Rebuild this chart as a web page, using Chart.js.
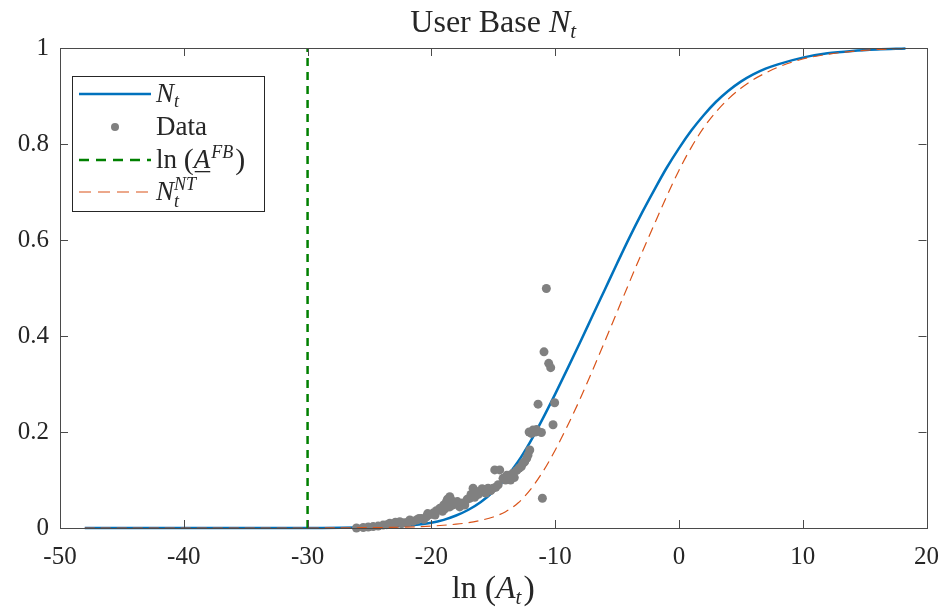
<!DOCTYPE html>
<html>
<head>
<meta charset="utf-8">
<script src="https://cdn.jsdelivr.net/npm/chart.js@4.4.1/dist/chart.umd.min.js"></script>
<style>
  html, body { margin: 0; padding: 0; background: #fff; }
  canvas { display: block; }
</style>
</head>
<body>
<canvas id="userBase" width="945" height="608"></canvas>
<script>
// ---- data ----
const xTicks = [-50, -40, -30, -20, -10, 0, 10, 20];
const yTicks = [0, 0.2, 0.4, 0.6, 0.8, 1];
const yTickLabels = ["0", "0.2", "0.4", "0.6", "0.8", "1"];

// N_t (model curve)
const ntX = [-48, -30, -26, -24, -22, -20, -19, -18, -17, -16, -15, -14, -13, -12, -11, -10, -9, -8, -7, -6, -5, -4, -3, -2, -1, 0, 1, 2, 3, 4, 5, 6, 7, 8, 10, 12, 14, 16, 18.3];
const ntY = [0, 0, 0.001, 0.002, 0.005, 0.011, 0.017, 0.026, 0.038, 0.054, 0.076, 0.104, 0.138, 0.180, 0.228, 0.279, 0.332, 0.386, 0.441, 0.496, 0.551, 0.605, 0.656, 0.704, 0.750, 0.791, 0.828, 0.860, 0.888, 0.911, 0.930, 0.945, 0.957, 0.966, 0.980, 0.989, 0.994, 0.997, 0.999];

// N_t^NT (no-tech counterfactual)
const nntX = [-48, -30, -26, -22, -20, -18, -17, -16, -15, -14, -13, -12, -11, -10, -9, -8, -7, -6, -5, -4, -3, -2, -1, 0, 1, 2, 3, 4, 5, 6, 7, 8, 10, 12, 14, 16, 18.3];
const nntY = [0, 0, 0.0005, 0.002, 0.004, 0.008, 0.011, 0.016, 0.023, 0.034, 0.052, 0.080, 0.117, 0.162, 0.213, 0.268, 0.327, 0.388, 0.450, 0.512, 0.573, 0.632, 0.690, 0.745, 0.793, 0.834, 0.867, 0.894, 0.916, 0.934, 0.948, 0.960, 0.977, 0.987, 0.993, 0.997, 0.999];

// observed data
const dataX = [-26.05, -25.5, -25.1, -24.7, -24.3, -23.9, -23.6, -23.36, -23.0, -22.9, -22.55, -22.4, -22.2, -21.9, -21.74, -21.5, -21.2, -21.0, -20.8, -20.6, -20.39, -20.3, -20.1, -19.86, -19.7, -19.6, -19.32, -19.1, -19.0, -18.9, -18.78, -18.7, -18.51, -18.38, -18.51, -18.3, -18.1, -17.9, -17.71, -17.5, -17.3, -17.1, -16.9, -16.8, -16.63, -16.5, -16.36, -16.2, -16.0, -15.9, -15.7, -15.6, -15.42, -15.2, -15.01, -14.88, -14.8, -14.6, -14.48, -14.21, -14.0, -13.9, -13.7, -13.6, -13.4, -13.3, -13.1, -12.9, -12.73, -12.6, -12.46, -12.3, -12.19, -12.1, -12.05, -11.92, -11.79, -11.6, -11.5, -11.38, -11.11, -11.03, -10.9, -10.71, -10.52, -10.36, -10.17, -10.04];
const dataY = [0.0, 0.001, 0.002, 0.003, 0.004, 0.006, 0.007, 0.0098, 0.008, 0.012, 0.013, 0.009, 0.011, 0.012, 0.0167, 0.014, 0.0167, 0.02, 0.02, 0.018, 0.0235, 0.03, 0.028, 0.031, 0.027, 0.036, 0.041, 0.035, 0.048, 0.04, 0.055, 0.06, 0.065, 0.058, 0.044, 0.048, 0.05, 0.055, 0.044, 0.052, 0.048, 0.06, 0.062, 0.07, 0.083, 0.064, 0.076, 0.07, 0.075, 0.082, 0.08, 0.073, 0.083, 0.078, 0.083, 0.121, 0.085, 0.09, 0.121, 0.1035, 0.1, 0.11, 0.11, 0.1, 0.114, 0.105, 0.12, 0.125, 0.128, 0.135, 0.138, 0.145, 0.152, 0.2, 0.1625, 0.197, 0.204, 0.2, 0.205, 0.258, 0.199, 0.062, 0.367, 0.499, 0.343, 0.334, 0.215, 0.261];

// ln(A^FB) threshold
const fbX = [-30, -30];
const fbY = [0, 1];

const SERIF = '"Liberation Serif", "DejaVu Serif", serif';
const AXIS_COLOR = "#4a4a4a";
const TEXT_COLOR = "#262626";

const pts = (xs, ys) => xs.map((x, i) => ({ x: x, y: ys[i] }));

// draw one text piece, returns end x
function seg(ctx, x, y, text, size, italic, dy) {
  ctx.font = (italic ? "italic " : "") + size + "px " + SERIF;
  ctx.fillText(text, x, y + (dy || 0));
  return x + ctx.measureText(text).width;
}
function segWidth(ctx, text, size, italic) {
  ctx.font = (italic ? "italic " : "") + size + "px " + SERIF;
  return ctx.measureText(text).width;
}

const framePlugin = {
  id: "frame",
  afterDraw(chart) {
    const ctx = chart.ctx;
    const a = chart.chartArea;
    const xs = chart.scales.x, ys = chart.scales.y;
    ctx.save();
    // box + inward ticks (MATLAB style)
    ctx.strokeStyle = AXIS_COLOR;
    ctx.lineWidth = 1;
    ctx.strokeRect(Math.round(a.left) + 0.5, Math.round(a.top) + 0.5, Math.round(a.right - a.left), Math.round(a.bottom - a.top));
    const tl = 8;
    ctx.beginPath();
    xTicks.forEach(v => {
      const px = Math.round(xs.getPixelForValue(v)) + 0.5;
      ctx.moveTo(px, a.bottom); ctx.lineTo(px, a.bottom - tl);
      ctx.moveTo(px, a.top); ctx.lineTo(px, a.top + tl);
    });
    yTicks.forEach(v => {
      const py = Math.round(ys.getPixelForValue(v)) + 0.5;
      ctx.moveTo(a.left, py); ctx.lineTo(a.left + tl, py);
      ctx.moveTo(a.right, py); ctx.lineTo(a.right - tl, py);
    });
    ctx.stroke();

    ctx.fillStyle = TEXT_COLOR;
    ctx.textBaseline = "alphabetic";
    ctx.textAlign = "left";
    const cx = (a.left + a.right) / 2;

    // title: User Base N_t
    const tf = 32, tsub = 21;
    let w = segWidth(ctx, "User Base ", tf, false) + segWidth(ctx, "N", tf, true) + segWidth(ctx, "t", tsub, true);
    let x = cx - w / 2;
    x = seg(ctx, x, 32, "User Base ", tf, false);
    x = seg(ctx, x, 32, "N", tf, true);
    seg(ctx, x, 32, "t", tsub, true, 6);

    // x label: ln (A_t)
    w = segWidth(ctx, "ln ", tf, false) + segWidth(ctx, "(", tf + 2, false) + segWidth(ctx, "A", tf, true) + segWidth(ctx, "t", tsub, true) + segWidth(ctx, ")", tf + 2, false) + 2;
    x = cx - w / 2;
    x = seg(ctx, x, 598, "ln ", tf, false);
    x = seg(ctx, x, 599, "(", tf + 2, false);
    x = seg(ctx, x, 598, "A", tf, true);
    x = seg(ctx, x, 598, "t", tsub, true, 6);
    seg(ctx, x + 2, 599, ")", tf + 2, false);

    // legend
    const L = { left: 72, top: 76, right: 264, bottom: 211 };
    ctx.fillStyle = "#fff";
    ctx.fillRect(L.left, L.top, L.right - L.left, L.bottom - L.top);
    ctx.strokeStyle = "#262626";
    ctx.lineWidth = 1;
    ctx.strokeRect(L.left + 0.5, L.top + 0.5, L.right - L.left, L.bottom - L.top);
    const s0 = 79, s1 = 151, tx = 156;
    const rows = [94, 127, 160, 192];
    ctx.lineCap = "butt";
    // N_t
    ctx.strokeStyle = "#0072BD"; ctx.lineWidth = 2.5; ctx.setLineDash([]);
    ctx.beginPath(); ctx.moveTo(s0, rows[0]); ctx.lineTo(s1, rows[0]); ctx.stroke();
    // Data
    ctx.fillStyle = "#808080";
    ctx.beginPath(); ctx.arc((s0 + s1) / 2, rows[1], 4, 0, Math.PI * 2); ctx.fill();
    // ln(A^FB)
    ctx.strokeStyle = "#008000"; ctx.lineWidth = 2.5; ctx.setLineDash([10, 7]);
    ctx.beginPath(); ctx.moveTo(s0, rows[2]); ctx.lineTo(s1, rows[2]); ctx.stroke();
    // N^NT
    ctx.strokeStyle = "#D95319"; ctx.lineWidth = 1.2; ctx.setLineDash([12, 7]);
    ctx.beginPath(); ctx.moveTo(s0, rows[3]); ctx.lineTo(s1, rows[3]); ctx.stroke();
    ctx.setLineDash([]);

    const lf = 27, ls = 18;
    ctx.fillStyle = TEXT_COLOR;
    x = seg(ctx, tx, rows[0] + 8, "N", lf, true);
    seg(ctx, x, rows[0] + 8, "t", ls, true, 5);
    seg(ctx, tx, rows[1] + 8, "Data", lf, false);
    x = seg(ctx, tx, rows[2] + 8, "ln ", lf, false);
    x = seg(ctx, x, rows[2] + 9, "(", lf + 3, false);
    const ax = x;
    x = seg(ctx, x, rows[2] + 8, "A", lf, true);
    ctx.fillRect(ax + 1, rows[2] + 11, x - ax - 1, 1.3);
    x = seg(ctx, x + 1, rows[2] + 8, "FB", ls, true, -10);
    seg(ctx, x + 2, rows[2] + 9, ")", lf + 3, false);
    x = seg(ctx, tx, rows[3] + 8, "N", lf, true);
    seg(ctx, x, rows[3] + 8, "NT", ls, true, -10);
    seg(ctx, x, rows[3] + 8, "t", ls, true, 7);
    ctx.restore();
  }
};

new Chart(document.getElementById("userBase"), {
  type: "scatter",
  data: {
    datasets: [
      {
        label: "N_t", type: "line", data: pts(ntX, ntY),
        borderColor: "#0072BD", borderWidth: 2.5, pointRadius: 0,
        cubicInterpolationMode: "monotone", fill: false, clip: false, order: 4
      },
      {
        label: "Data", data: pts(dataX, dataY),
        backgroundColor: "#808080", borderColor: "#808080", borderWidth: 0,
        pointRadius: 4.5, clip: false, order: 3
      },
      {
        label: "ln(A^FB)", type: "line", data: pts(fbX, fbY),
        borderColor: "#008000", borderWidth: 2.5, borderDash: [8, 6], pointRadius: 0,
        fill: false, clip: false, order: 2
      },
      {
        label: "N_t^NT", type: "line", data: pts(nntX, nntY),
        borderColor: "#D95319", borderWidth: 1.2, borderDash: [10, 6], pointRadius: 0,
        cubicInterpolationMode: "monotone", fill: false, clip: false, order: 1
      }
    ]
  },
  options: {
    responsive: false,
    animation: false,
    layout: { padding: { top: 48, right: 18, left: 0, bottom: 0 } },
    plugins: { legend: { display: false }, tooltip: { enabled: false }, title: { display: false } },
    scales: {
      x: {
        type: "linear", min: -50, max: 20,
        afterBuildTicks: s => { s.ticks = xTicks.map(v => ({ value: v })); },
        afterFit: s => { s.height = 80; },
        ticks: { padding: 6, maxRotation: 0, color: TEXT_COLOR, font: { family: SERIF, size: 25 }, callback: v => String(v) },
        grid: { display: false }, border: { display: false }
      },
      y: {
        type: "linear", min: 0, max: 1,
        afterBuildTicks: s => { s.ticks = yTicks.map(v => ({ value: v })); },
        afterFit: s => { s.width = 60; },
        ticks: { padding: 3, color: TEXT_COLOR, font: { family: SERIF, size: 25 }, callback: v => yTickLabels[yTicks.indexOf(v)] },
        grid: { display: false }, border: { display: false }
      }
    }
  },
  plugins: [framePlugin]
});
</script>
</body>
</html>
